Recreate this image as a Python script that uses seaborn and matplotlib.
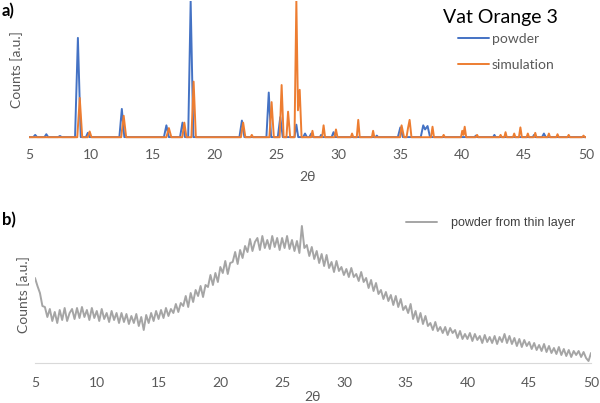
import matplotlib
matplotlib.use('Agg')
import matplotlib.pyplot as plt
import seaborn as sns

# --- a) powder vs simulation (peak outlines read off the picture) ---
powder_x = [5.0, 5.35, 5.5, 5.65, 6.25, 6.4, 6.55, 7.35, 7.5, 7.65,
            8.72, 8.95, 9.18, 9.6, 9.75, 9.9, 12.3, 12.5, 12.7,
            15.9, 16.1, 16.3, 17.2, 17.4, 17.6, 17.86, 18.06, 18.28,
            22.0, 22.2, 22.4, 24.18, 24.37, 24.56, 25.1, 25.3, 25.5,
            26.45, 26.6, 26.75, 27.15, 27.3, 27.45, 27.65, 27.8, 27.95,
            28.5, 28.6, 28.7, 29.45, 29.6, 29.75, 33.0, 33.1, 33.2,
            34.8, 35.0, 35.2, 36.65, 36.85, 37.0, 37.2, 37.4,
            41.0, 41.1, 41.2, 42.5, 42.6, 42.7, 45.7, 45.8, 45.9,
            46.45, 46.6, 46.75, 50.0]
powder_y = [0.004, 0.004, 0.02, 0.004, 0.004, 0.025, 0.004, 0.004, 0.012, 0.004,
            0.004, 0.73, 0.004, 0.004, 0.035, 0.004, 0.004, 0.21, 0.004,
            0.004, 0.09, 0.004, 0.004, 0.11, 0.004, 0.004, 1.0, 0.004,
            0.004, 0.125, 0.004, 0.004, 0.33, 0.004, 0.004, 0.15, 0.004,
            0.004, 0.095, 0.004, 0.004, 0.03, 0.004, 0.004, 0.03, 0.004,
            0.004, 0.02, 0.004, 0.004, 0.04, 0.004, 0.004, 0.015, 0.004,
            0.004, 0.075, 0.004, 0.004, 0.09, 0.06, 0.085, 0.004,
            0.004, 0.015, 0.004, 0.004, 0.02, 0.004, 0.004, 0.02, 0.004,
            0.004, 0.03, 0.004, 0.004]

sim_x = [5.0, 8.9, 9.1, 9.3, 9.75, 9.9, 10.05, 12.45, 12.65, 12.85,
         16.1, 16.3, 16.5, 17.38, 17.55, 17.72, 18.12, 18.3, 18.48,
         22.12, 22.3, 22.48, 22.9, 23.0, 23.1, 24.42, 24.6, 24.78,
         25.25, 25.41, 25.57, 25.8, 25.93, 26.1, 26.45, 26.6, 26.73, 26.87, 27.02,
         27.8, 27.9, 28.0, 28.68, 28.8, 28.92, 29.68, 29.8, 29.92,
         31.0, 31.1, 31.2, 31.48, 31.6, 31.72, 32.7, 32.8, 32.9,
         34.98, 35.1, 35.3, 35.5, 35.62, 35.75, 35.9,
         37.48, 37.6, 37.72, 38.4, 38.5, 38.6, 39.9, 40.0, 40.1, 40.2, 40.32,
         41.1, 41.2, 41.3, 43.0, 43.1, 43.2, 43.4, 43.5, 43.6,
         44.1, 44.2, 44.3, 44.58, 44.7, 44.82, 45.2, 45.3, 45.4,
         45.8, 45.9, 46.0, 46.9, 47.0, 47.1, 47.6, 47.7, 47.8,
         48.5, 48.6, 48.7, 49.7, 49.8, 49.9, 50.0]
sim_y = [0.003, 0.003, 0.29, 0.003, 0.003, 0.045, 0.003, 0.003, 0.16, 0.003,
         0.003, 0.07, 0.003, 0.003, 0.11, 0.003, 0.003, 0.41, 0.003,
         0.003, 0.11, 0.003, 0.003, 0.02, 0.003, 0.003, 0.26, 0.003,
         0.003, 0.385, 0.003, 0.003, 0.19, 0.003, 0.003, 1.0, 0.2, 0.35, 0.003,
         0.003, 0.05, 0.003, 0.003, 0.09, 0.003, 0.003, 0.06, 0.003,
         0.003, 0.03, 0.003, 0.003, 0.13, 0.003, 0.003, 0.05, 0.003,
         0.003, 0.09, 0.003, 0.003, 0.07, 0.13, 0.003,
         0.003, 0.08, 0.003, 0.003, 0.02, 0.003, 0.003, 0.05, 0.02, 0.08, 0.003,
         0.003, 0.02, 0.003, 0.003, 0.02, 0.003, 0.003, 0.04, 0.003,
         0.003, 0.03, 0.003, 0.003, 0.075, 0.003, 0.003, 0.03, 0.003,
         0.003, 0.035, 0.003, 0.003, 0.03, 0.003, 0.003, 0.025, 0.003,
         0.003, 0.02, 0.003, 0.003, 0.015, 0.003, 0.003]

# --- b) thin layer, sampled every 0.2 deg from 5 to 50 ---
thin_start, thin_step = 5.0, 0.2
thin_y = [85, 77, 70, 57, 56, 46, 54, 42, 51, 40,
          53, 43, 55, 42, 50, 54, 44, 55, 45, 56,
          46, 53, 43, 55, 45, 52, 42, 54, 44, 50,
          41, 52, 43, 50, 40, 50, 41, 49, 39, 47,
          40, 49, 37, 46, 33, 48, 40, 50, 42, 52,
          44, 53, 45, 55, 47, 54, 50, 59, 51, 60,
          57, 67, 56, 70, 61, 73, 67, 77, 66, 78,
          76, 88, 78, 90, 81, 96, 90, 102, 89, 100,
          101, 111, 99, 113, 105, 117, 111, 124, 112, 121,
          125, 113, 127, 115, 123, 114, 127, 116, 125, 113,
          125, 115, 127, 114, 123, 112, 122, 110, 137, 115,
          118, 107, 116, 104, 112, 100, 109, 97, 108, 95,
          101, 91, 102, 92, 96, 88, 94, 86, 95, 86,
          89, 82, 91, 81, 85, 75, 83, 72, 80, 69,
          73, 64, 71, 62, 68, 58, 67, 56, 64, 53,
          57, 50, 59, 44, 52, 41, 50, 39, 47, 37,
          40, 33, 41, 32, 36, 30, 36, 28, 35, 30,
          33, 25, 32, 24, 29, 24, 30, 22, 29, 23,
          27, 20, 28, 21, 26, 20, 27, 19, 26, 21,
          29, 20, 27, 19, 25, 17, 24, 16, 23, 17,
          21, 14, 20, 13, 18, 12, 19, 11, 17, 10,
          15, 9, 16, 8, 14, 7, 13, 6, 12, 8,
          12, 6, 11, 5, 2, 10]
thin_x = [round(thin_start + i * thin_step, 1) for i in range(len(thin_y))]

ticks = [5, 10, 15, 20, 25, 30, 35, 40, 45, 50]

sns.set_theme(style='white')
plt.rcParams['font.family'] = ['Lato', 'DejaVu Sans']

grey_txt = '#595959'
fig = plt.figure(figsize=(6, 4.03), dpi=100)
ax1 = fig.add_axes([29/600, 264/403, 557/600, 138/403])
ax2 = fig.add_axes([35/600, 40/403, 556/600, 150/403])

sns.lineplot(x=powder_x, y=powder_y, ax=ax1, color='#4472C4', lw=1.4,
             estimator=None, sort=False, label='powder')
sns.lineplot(x=sim_x, y=sim_y, ax=ax1, color='#ED7D31', lw=1.4,
             estimator=None, sort=False, label='simulation')
ax1.set_xlim(5, 50)
ax1.set_ylim(-0.01, 1.0)
ax1.set_xticks(ticks)
ax1.set_yticks([])
ax1.tick_params(axis='x', length=0, pad=7, labelsize=10, labelcolor=grey_txt)
for s in ax1.spines.values():
    s.set_visible(False)
ax1.set_xlabel('')
ax1.set_ylabel('')
ax1.legend(loc='upper left', bbox_to_anchor=(458/600, 1 - 33/403),
           bbox_transform=fig.transFigure, frameon=False, fontsize=10,
           handlelength=2.2, handletextpad=0.25, labelspacing=1.0,
           borderpad=0, borderaxespad=0, labelcolor=grey_txt)

sns.lineplot(x=thin_x, y=thin_y, ax=ax2, color='#A5A5A5', lw=1.4,
             estimator=None, label='powder from thin layer')
ax2.set_xlim(5, 50)
ax2.set_ylim(0, 150)
ax2.set_xticks(ticks)
ax2.set_yticks([])
ax2.tick_params(axis='x', length=0, pad=10, labelsize=10, labelcolor=grey_txt)
for k, s in ax2.spines.items():
    s.set_visible(k == 'bottom')
ax2.spines['bottom'].set_color('#D9D9D9')
ax2.spines['bottom'].set_linewidth(0.8)
ax2.set_xlabel('')
ax2.set_ylabel('')
ax2.legend(loc='upper left', bbox_to_anchor=(406/600, 1 - 217/403),
           bbox_transform=fig.transFigure, frameon=False,
           prop={'family': 'Liberation Sans', 'size': 9},
           handlelength=2.5, handletextpad=1.1,
           borderpad=0, borderaxespad=0, labelcolor='#404040')

# titles and labels
fig.text(500/600, 1 - 18/403, 'Vat Orange 3', ha='center', va='center', fontsize=14, color='black')
fig.text(2/600, 1 - 11/403, 'a)', ha='left', va='center', fontsize=12, fontweight='bold', color='black')
fig.text(2/600, 1 - 220/403, 'b)', ha='left', va='center', fontsize=12, fontweight='bold', color='black')
fig.text(17/600, 1 - 70/403, 'Counts [a.u.]', rotation=90, ha='center', va='center', fontsize=10, color=grey_txt)
fig.text(24/600, 1 - 295/403, 'Counts [a.u.]', rotation=90, ha='center', va='center', fontsize=10, color=grey_txt)
fig.text(307/600, 1 - 177/403, '2θ', ha='center', va='center', fontsize=10, color=grey_txt)
fig.text(312/600, 1 - 397/403, '2θ', ha='center', va='center', fontsize=10, color=grey_txt)

plt.savefig('out.png', dpi=100)
